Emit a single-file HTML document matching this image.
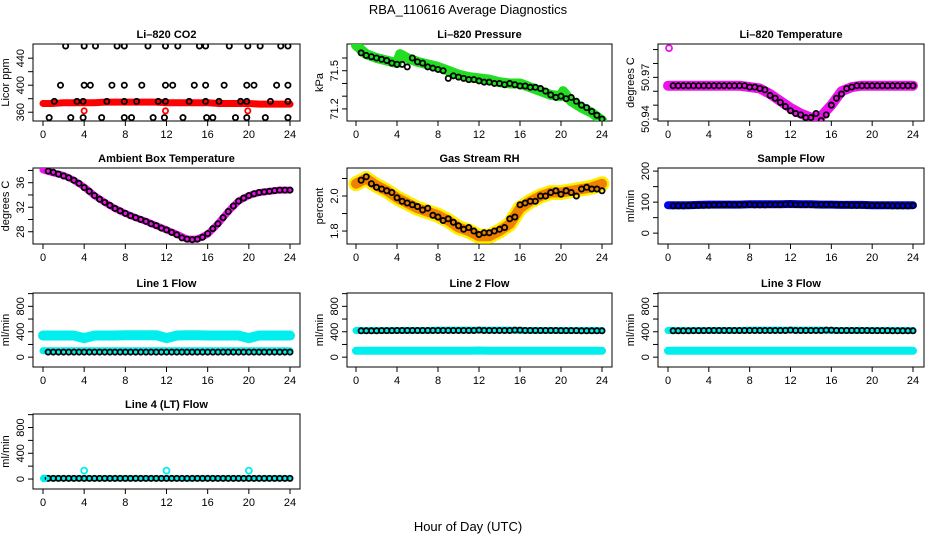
<!DOCTYPE html>
<html><head><meta charset="utf-8"><style>
html,body{margin:0;padding:0;background:#fff}
svg{display:block;font-family:"Liberation Sans",Arial,sans-serif}
</style></head><body>
<svg id="c" width="936" height="540" viewBox="0 0 936 540">
<text x="468" y="14" font-size="13" text-anchor="middle">RBA_110616  Average Diagnostics</text>
<text x="468" y="531" font-size="13" text-anchor="middle">Hour of Day (UTC)</text>
</svg>
<script>
// ---- shared data ----
const xTicks = [0,4,8,12,16,20,24];
const halfHours = [0.5,1,1.5,2,2.5,3,3.5,4,4.5,5,5.5,6,6.5,7,7.5,8,8.5,9,9.5,10,10.5,11,11.5,12,12.5,13,13.5,14,14.5,15,15.5,16,16.5,17,17.5,18,18.5,19,19.5,20,20.5,21,21.5,22,22.5,23,23.5,24];
const bandHours = [0,1,2,3,4,5,6,7,8,9,10,11,12,13,14,15,16,17,18,19,20,21,22,23,24];

// CO2
const co2Hours = [2.2,4.0,5.1,7.2,7.9,10.2,11.9,13.1,15.2,15.8,18.1,19.9,21.1,23.1,23.8, 1.7,4.0,4.6,6.7,7.9,9.6,11.9,12.6,14.7,15.8,17.6,19.8,20.5,22.7,23.8, 1.1,3.3,3.9,6.2,7.9,9.1,11.2,11.9,14.2,15.8,17.1,19.2,19.8,22.1,23.8, 0.6,2.7,3.9,5.7,7.9,8.6,10.7,11.8,13.6,15.9,16.5,18.7,19.8,21.6,23.8];
const co2Values = [458,458,458,458,458,458,458,458,458,458,458,458,458,458,458, 400,400,400,400,400,400,400,400,400,400,400,400,400,400,400, 376,376,376,376,376,376,376,376,376,376,376,376,376,376,376, 352,352,352,352,352,352,352,352,352,352,352,352,352,352,352];
const co2Band = [373,373,374,374,374,374,375,375,375,375,375,375,374,374,374,374,374,373,373,373,373,372,372,372,372];
const co2RedHours = [4.0,11.9,19.9];
const co2RedValues = [362,362,362];

// Pressure
const presBandHours = [0,1,2,3,4,4.3,5,6,7,8,9,10,11,12,13,14,15,16,17,18,19,20,20.2,21,22,23,24];
const presBand = [71.70,71.63,71.60,71.58,71.56,71.63,71.60,71.57,71.55,71.53,71.50,71.47,71.45,71.44,71.43,71.41,71.40,71.40,71.37,71.34,71.31,71.30,71.34,71.26,71.21,71.17,71.11];
const presBlack = [71.64,71.62,71.61,71.60,71.59,71.58,71.56,71.55,71.55,71.53,71.60,71.57,71.56,71.53,71.52,71.51,71.50,71.44,71.46,71.45,71.44,71.43,71.43,71.42,71.41,71.41,71.40,71.40,71.39,71.40,71.39,71.38,71.38,71.37,71.37,71.36,71.34,71.31,71.29,71.30,71.28,71.29,71.26,71.23,71.21,71.18,71.15,71.12];

// Li-820 temperature
const tempBand = [50.964,50.964,50.964,50.964,50.964,50.964,50.964,50.964,50.963,50.962,50.958,50.953,50.948,50.944,50.941,50.942,50.950,50.960,50.963,50.964,50.964,50.964,50.964,50.964,50.964];
const tempBlack = [50.964,50.964,50.964,50.964,50.964,50.964,50.964,50.964,50.964,50.964,50.964,50.964,50.964,50.964,50.964,50.963,50.963,50.962,50.961,50.957,50.955,50.952,50.949,50.946,50.944,50.943,50.941,50.941,50.944,50.939,50.943,50.950,50.955,50.958,50.962,50.963,50.964,50.964,50.964,50.964,50.964,50.964,50.964,50.964,50.964,50.964,50.964,50.964];
const tempOutHours = [0.1];
const tempOutValues = [50.991];

// Ambient box temperature
const ambBand = [38.1,37.6,37.2,36.4,35.3,33.9,32.8,31.8,31.0,30.3,29.7,29.0,28.3,27.6,26.8,26.8,27.6,29.3,31.3,33.0,33.9,34.4,34.6,34.8,34.8];
const ambBlack = [37.9,37.7,37.4,37.1,36.8,36.4,35.9,35.2,34.6,33.9,33.3,32.8,32.3,31.8,31.4,31.0,30.6,30.3,30.0,29.7,29.3,29.0,28.6,28.3,27.9,27.5,27.0,26.8,26.7,26.8,27.1,27.7,28.5,29.3,30.3,31.3,32.2,33.0,33.5,33.9,34.2,34.4,34.5,34.6,34.7,34.8,34.8,34.8];

// Gas stream RH
const rhBand = [2.07,2.10,2.06,2.03,1.99,1.96,1.93,1.91,1.89,1.86,1.82,1.80,1.77,1.77,1.80,1.84,1.93,1.97,2.00,2.02,2.02,2.03,2.04,2.05,2.07];
const rhBlack = [2.09,2.11,2.07,2.05,2.04,2.03,2.02,1.99,1.97,1.96,1.95,1.94,1.92,1.93,1.89,1.88,1.86,1.87,1.85,1.83,1.81,1.82,1.80,1.78,1.79,1.79,1.80,1.81,1.82,1.87,1.88,1.95,1.96,1.97,1.97,2.00,2.00,2.02,2.03,2.01,2.03,2.02,2.00,2.04,2.05,2.04,2.04,2.03];

// Sample flow
const sfBand = [90,90,90,91,92,92,92,92,93,93,93,93,94,93,93,92,92,91,91,91,90,90,90,90,90];
const sfBlack = [88,88,88,89,89,90,90,90,91,91,92,92,91,92,92,92,91,91,91,92,92,92,93,93,92,92,92,92,91,92,92,92,91,91,91,90,90,90,90,89,89,89,89,88,88,88,88,89];

// Line flows
const l1CyanHi = [340,340,340,340,300,340,340,340,345,345,345,345,300,340,345,345,340,340,340,340,300,340,340,340,340];
const l1CyanLo = [100,100,100,100,100,100,100,100,100,100,100,100,100,100,100,100,100,100,100,100,100,100,100,100,100];
const l1Black = [80,80,80,80,80,80,80,80,80,80,80,80,80,80,80,80,80,80,80,80,80,80,80,80,80,80,80,80,80,80,80,80,80,80,80,80,80,80,80,80,80,80,80,80,80,80,80,80];
const l2CyanHi = [420,420,420,420,420,420,420,420,425,425,425,425,425,425,425,425,420,420,420,420,420,420,420,420,420];
const l2CyanLo = [100,100,100,100,100,100,100,100,100,100,100,100,105,100,100,100,100,100,100,100,100,100,100,100,100];
const l2Black = [415,415,415,415,418,418,418,420,420,420,420,420,420,420,420,420,420,420,420,420,420,420,420,425,420,420,420,420,420,420,425,425,420,420,420,420,420,420,420,418,418,418,418,415,415,415,415,415];
const l3CyanHi = [420,420,420,420,420,420,420,420,425,425,425,425,425,425,425,425,420,420,420,420,420,420,420,420,420];
const l3CyanLo = [100,100,100,100,100,100,100,100,100,100,100,100,100,100,100,100,100,100,100,100,100,100,100,100,100];
const l3Black = [415,415,415,415,418,418,418,420,420,420,420,420,420,420,420,420,420,420,420,420,420,420,420,425,420,420,420,420,420,420,425,425,420,420,420,420,420,420,420,418,418,418,418,415,415,415,415,415];
const l4Cyan = [10,10,10,10,10,10,10,10,10,10,10,10,10,10,5,10,10,10,10,10,10,10,10,10,10];
const l4Black = [10,10,10,10,10,10,10,10,10,10,10,10,10,10,10,10,10,10,10,10,10,10,10,10,10,10,10,10,10,10,10,10,10,10,10,10,10,10,10,10,10,10,10,10,10,10,10,10];
const l4OutHours = [0.1,4,12,20];
const l4OutValues = [10,130,130,130];

// ---- layout ----
const NS = 'http://www.w3.org/2000/svg';
const svg = document.getElementById('c');
const cols = [{l:33,r:300,x0:43,x24:290},{l:347,r:612,x0:356,x24:602},{l:658,r:924,x0:668,x24:913}];
const rows = [{t:44,b:121},{t:168,b:244},{t:293,b:367},{t:414,b:489}];
function mk(tag, attrs, parent){const e=document.createElementNS(NS,tag);for(const k in attrs)e.setAttribute(k,attrs[k]);(parent||svg).appendChild(e);return e;}

function panel(name,title,ylab,ci,ri,ymin,ymax,yTicks,yLabels,fmt){
  const c=cols[ci], r=rows[ri];
  const g=mk('g',{});
  
  
  const sx=h=>c.x0+(c.x24-c.x0)*h/24;
  const sy=v=>r.b-(v-ymin)/(ymax-ymin)*(r.b-r.t);
  const t=mk('text',{x:(c.l+c.r)/2,y:r.t-6,'font-size':11,'font-weight':'bold','text-anchor':'middle'},g);t.textContent=title;
  
  
  const box=mk('rect',{x:c.l,y:r.t,width:c.r-c.l,height:r.b-r.t,fill:'none',stroke:'#000','stroke-width':1},g);
  
  
  const xa=mk('g',{},g);
  
  
  mk('line',{x1:sx(0),x2:sx(24),y1:r.b,y2:r.b,stroke:'#000'},xa);
  xTicks.forEach(h=>{mk('line',{x1:sx(h),x2:sx(h),y1:r.b,y2:r.b+5,stroke:'#000'},xa);
    const tt=mk('text',{x:sx(h),y:r.b+17,'font-size':11,'text-anchor':'middle'},xa);tt.textContent=h;});
  const ya=mk('g',{},g);
  
  
  mk('line',{x1:c.l,x2:c.l,y1:sy(yTicks[0]),y2:sy(yTicks[yTicks.length-1]),stroke:'#000'},ya);
  yTicks.forEach(v=>mk('line',{x1:c.l-5,x2:c.l,y1:sy(v),y2:sy(v),stroke:'#000'},ya));
  yLabels.forEach(v=>{const x=c.l-9,y=sy(v);const tt=mk('text',{x:x,y:y,'font-size':11,'text-anchor':'middle',transform:`rotate(-90 ${x} ${y})`},ya);tt.textContent=fmt?fmt(v):v;});
  const yl=mk('text',{x:c.l-24,y:(r.t+r.b)/2,'font-size':11,'text-anchor':'middle',transform:`rotate(-90 ${c.l-24} ${(r.t+r.b)/2})`},g);yl.textContent=ylab;
  
  
  const clip='clip'+name;
  const cp=mk('clipPath',{id:clip},g);mk('rect',{x:c.l,y:r.t,width:c.r-c.l,height:r.b-r.t},cp);
  const data=mk('g',{'clip-path':`url(#${clip})`},g);
  return {
    band(hours,vals,color,w,sname){const p=mk('polyline',{points:hours.map((h,i)=>sx(h)+','+sy(vals[i])).join(' '),fill:'none',stroke:color,'stroke-width':w,'stroke-linejoin':'round','stroke-linecap':'round'},data);
      
      },
    pts(hours,vals,color,sname,rad){const pg=mk('g',{},data);
      
      
      hours.forEach((h,i)=>mk('circle',{cx:sx(h),cy:sy(vals[i]),r:rad||2.6,fill:'none',stroke:color,'stroke-width':1.8},pg));}
  };
}

let p;
p=panel('co2','Li\u2013820 CO2','Licor ppm',0,0,347,461,[360,380,400,420,440],[360,400,440]);
p.band(bandHours,co2Band,'#f00',7,'co2-red-band');
p.pts(co2Hours,co2Values,'#000','co2-black-points');
p.pts(co2RedHours,co2RedValues,'#f00','co2-red-outliers');

p=panel('pressure','Li\u2013820 Pressure','kPa',1,0,71.105,71.71,[71.2,71.3,71.4,71.5,71.6],[71.2,71.5],v=>v.toFixed(1));
p.band(presBandHours,presBand,'#22dd22',10,'pressure-green-band');
p.pts(halfHours,presBlack,'#000','pressure-black-points');

p=panel('licor-temp','Li\u2013820 Temperature','degrees C',2,0,50.9386,50.994,[50.94,50.95,50.96,50.97,50.98,50.99],[50.94,50.97],v=>v.toFixed(2));
p.band(bandHours,tempBand,'#ee11ee',10,'licor-temp-magenta-band');
p.pts(halfHours,tempBlack,'#000','licor-temp-black-points');
p.pts(tempOutHours,tempOutValues,'#ee11ee','licor-temp-outlier',3);

p=panel('ambient','Ambient Box Temperature','degrees C',0,1,26.0,38.4,[28,30,32,34,36,38],[28,32,36]);
p.band(bandHours,ambBand,'#ee11ee',7,'ambient-magenta-band');
p.pts(halfHours,ambBlack,'#000','ambient-black-points');

p=panel('rh','Gas Stream RH','percent',1,1,1.726,2.16,[1.8,1.9,2.0,2.1],[1.8,2.0],v=>v.toFixed(1));
p.band(bandHours,rhBand,'#ffee00',15,'rh-yellow-band');
p.band(bandHours,rhBand,'#f08000',10,'rh-orange-band');
p.pts(halfHours,rhBlack,'#000','rh-black-points');

p=panel('sample-flow','Sample Flow','ml/min',2,1,-35,210,[0,50,100,150,200],[0,100,200]);
p.band(bandHours,sfBand,'#0000ee',8,'sample-flow-blue-band');
p.pts(halfHours,sfBlack,'#000','sample-flow-black-points');

p=panel('line1','Line 1 Flow','ml/min',0,2,-155,1010,[0,200,400,600,800,1000],[0,400,800]);
p.band(bandHours,l1CyanHi,'#00eeee',10,'line1-cyan-high-band');
p.band(bandHours,l1CyanLo,'#00eeee',7,'line1-cyan-low-band');
p.pts(halfHours,l1Black,'#000','line1-black-points');

p=panel('line2','Line 2 Flow','ml/min',1,2,-155,1010,[0,200,400,600,800,1000],[0,400,800]);
p.band(bandHours,l2CyanHi,'#00eeee',7,'line2-cyan-high-band');
p.band(bandHours,l2CyanLo,'#00eeee',8,'line2-cyan-low-band');
p.pts(halfHours,l2Black,'#000','line2-black-points');

p=panel('line3','Line 3 Flow','ml/min',2,2,-155,1010,[0,200,400,600,800,1000],[0,400,800]);
p.band(bandHours,l3CyanHi,'#00eeee',7,'line3-cyan-high-band');
p.band(bandHours,l3CyanLo,'#00eeee',8,'line3-cyan-low-band');
p.pts(halfHours,l3Black,'#000','line3-black-points');

p=panel('line4','Line 4 (LT) Flow','ml/min',0,3,-155,1010,[0,200,400,600,800,1000],[0,400,800]);
p.band(bandHours,l4Cyan,'#00eeee',6,'line4-cyan-band');
p.pts(halfHours,l4Black,'#000','line4-black-points');
p.pts(l4OutHours,l4OutValues,'#00eeee','line4-cyan-outliers',3);
</script>
</body></html>
